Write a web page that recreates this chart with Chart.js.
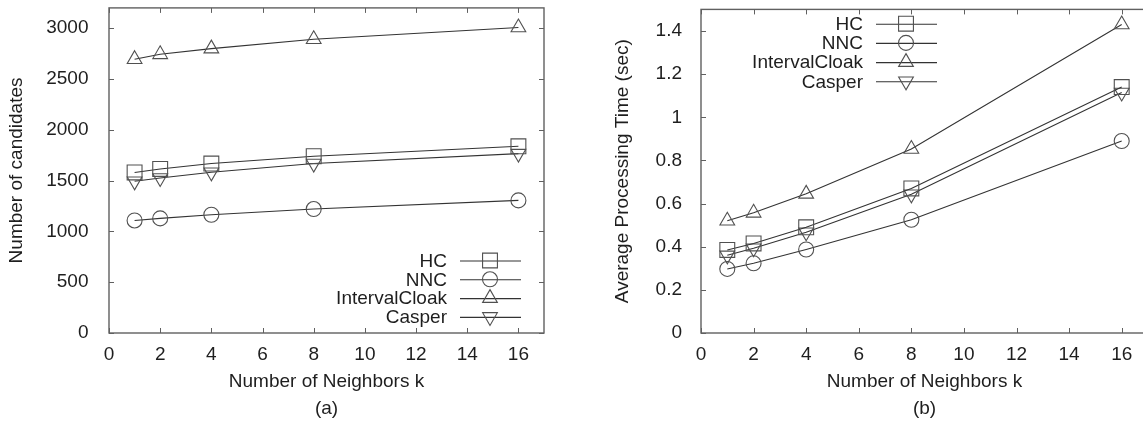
<!DOCTYPE html>
<html>
<head>
<meta charset="utf-8">
<script src="https://cdn.jsdelivr.net/npm/chart.js@4/dist/chart.umd.min.js"></script>
<style>
  html, body { margin: 0; padding: 0; background: #fff; }
  body { width: 1143px; height: 423px; overflow: hidden; position: relative; }
  canvas { position: absolute; top: 0; }
  #candidatesChart { left: 0; }
  #timeChart { left: 580px; }
</style>
</head>
<body>
<canvas id="candidatesChart" width="580" height="423"></canvas>
<canvas id="timeChart" width="600" height="423"></canvas>
<script>
// k values on the x axis
const kValues = [1, 2, 4, 8, 16];
const seriesNames = ['HC', 'NNC', 'IntervalCloak', 'Casper'];

// (a) number of candidates
const candHC = [1580, 1615, 1668, 1740, 1838];
const candNNC = [1108, 1128, 1164, 1220, 1305];
const candInterval = [2695, 2743, 2799, 2891, 3007];
const candCasper = [1493, 1526, 1582, 1668, 1766];

// (b) average processing time in seconds
const timeHC = [0.385, 0.415, 0.49, 0.67, 1.14];
const timeNNC = [0.297, 0.323, 0.387, 0.525, 0.89];
const timeInterval = [0.52, 0.557, 0.645, 0.853, 1.43];
const timeCasper = [0.36, 0.393, 0.467, 0.643, 1.115];

const xTicks = [0, 2, 4, 6, 8, 10, 12, 14, 16];
const candTicks = [0, 500, 1000, 1500, 2000, 2500, 3000];
const timeTicks = [0, 0.2, 0.4, 0.6, 0.8, 1, 1.2, 1.4];

const FONT = '"Liberation Sans", Arial, Helvetica, sans-serif';
const FONT_SIZE = 19;
const TEXT = '#1e1e1e';
const LINE = '#333';
const MARK = '#505050';
const FRAME = '#606060';
const PAGE_H = 423;

const markers = [
    { pointStyle: 'rect', radius: 10.5, rotation: 0 },
    { pointStyle: 'circle', radius: 7.5, rotation: 0 },
    { pointStyle: 'triangle', radius: 8.5, rotation: 0 },
    { pointStyle: 'triangle', radius: 8.5, rotation: 180 }
];

function makeDatasets(series) {
    return series.map((vals, i) => ({
        label: seriesNames[i],
        data: kValues.map((k, j) => ({ x: k, y: vals[j] })),
        borderColor: LINE,
        borderWidth: 1.1,
        tension: 0,
        fill: false,
        pointStyle: markers[i].pointStyle,
        pointRadius: markers[i].radius,
        pointHoverRadius: markers[i].radius,
        pointRotation: markers[i].rotation,
        pointBorderColor: MARK,
        pointBorderWidth: 1.1,
        pointBackgroundColor: 'rgba(0,0,0,0)',
        clip: false
    }));
}

// gnuplot-like frame with inward ticks on all four sides
const framePlugin = {
    id: 'frame',
    beforeDatasetsDraw(chart) {
        const { ctx, chartArea: a, scales } = chart;
        const len = 5;
        ctx.save();
        ctx.strokeStyle = FRAME;
        ctx.lineWidth = 1.4;
        ctx.strokeRect(a.left, a.top, a.right - a.left, a.bottom - a.top);
        ctx.lineWidth = 1;
        ctx.beginPath();
        scales.x.ticks.forEach(t => {
            const px = Math.round(scales.x.getPixelForValue(t.value)) + 0.5;
            ctx.moveTo(px, a.bottom); ctx.lineTo(px, a.bottom - len);
            ctx.moveTo(px, a.top); ctx.lineTo(px, a.top + len);
        });
        scales.y.ticks.forEach(t => {
            const py = Math.round(scales.y.getPixelForValue(t.value)) + 0.5;
            ctx.moveTo(a.left, py); ctx.lineTo(a.left + len, py);
            ctx.moveTo(a.right, py); ctx.lineTo(a.right - len, py);
        });
        ctx.stroke();
        ctx.restore();
    }
};

// legend drawn inside the plot: right-aligned name, sample line, marker
const keyPlugin = {
    id: 'key',
    afterDatasetsDraw(chart, args, opts) {
        const { ctx, chartArea: a } = chart;
        const textRight = opts.anchorX(a);
        const firstY = opts.anchorY(a);
        ctx.save();
        ctx.font = FONT_SIZE + 'px ' + FONT;
        ctx.textAlign = 'right';
        ctx.textBaseline = 'middle';
        chart.data.datasets.forEach((ds, i) => {
            const y = firstY + i * opts.rowGap;
            ctx.fillStyle = TEXT;
            ctx.fillText(ds.label, textRight, y + 1);
            ctx.strokeStyle = LINE;
            ctx.lineWidth = 1.1;
            ctx.beginPath();
            ctx.moveTo(textRight + 13, y + 0.5);
            ctx.lineTo(textRight + 74, y + 0.5);
            ctx.stroke();
            ctx.strokeStyle = MARK;
            ctx.fillStyle = 'rgba(0,0,0,0)';
            Chart.helpers.drawPoint(ctx, {
                pointStyle: ds.pointStyle,
                radius: ds.pointRadius,
                rotation: ds.pointRotation,
                borderWidth: 1.1
            }, textRight + 43, y);
        });
        ctx.restore();
    }
};

function keepTicks(list) {
    return scale => {
        scale.ticks = list.map(v => ({ value: v }));
    };
}

function buildChart(id, cfg) {
    const canvas = document.getElementById(id);
    const tickFont = { family: FONT, size: FONT_SIZE };
    const chart = new Chart(canvas, {
        type: 'line',
        data: { datasets: makeDatasets(cfg.series) },
        plugins: [framePlugin, keyPlugin],
        options: {
            responsive: false,
            maintainAspectRatio: false,
            animation: false,
            devicePixelRatio: 1,
            layout: { padding: { ...cfg.padding } },
            plugins: {
                legend: { display: false },
                tooltip: { enabled: false },
                key: cfg.key
            },
            scales: {
                x: {
                    type: 'linear',
                    min: 0,
                    max: 17,
                    afterBuildTicks: keepTicks(xTicks),
                    ticks: { color: TEXT, font: tickFont, padding: 2, maxRotation: 0,
                             callback: v => String(v) },
                    grid: { display: false },
                    border: { display: false },
                    title: {
                        display: true,
                        text: ['Number of Neighbors k', cfg.caption],
                        color: TEXT,
                        font: { family: FONT, size: FONT_SIZE, lineHeight: 1.45 },
                        padding: { top: 0, bottom: 0 }
                    },
                    afterFit: s => { s.height = 90; }
                },
                y: {
                    type: 'linear',
                    min: 0,
                    max: cfg.yMax,
                    afterBuildTicks: keepTicks(cfg.yTicks),
                    ticks: { color: TEXT, font: tickFont, padding: cfg.yPad,
                             callback: v => String(+v.toFixed(1)) },
                    grid: { display: false },
                    border: { display: false },
                    title: {
                        display: true,
                        text: cfg.yTitle,
                        color: TEXT,
                        font: { family: FONT, size: FONT_SIZE },
                        padding: { top: cfg.yTitlePad, bottom: 0 }
                    },
                    afterFit: s => { s.height = s.height; s.width = cfg.yWidth; }
                }
            }
        }
    });

    // the layout reserves extra room above the plot; grow the canvas upwards
    // by that amount so the plot top lands at cfg.plotTop on the page
    const extra = Math.round(chart.chartArea.top - cfg.plotTop);
    if (extra > 0) {
        canvas.style.top = (-extra) + 'px';
        chart.resize(canvas.width, PAGE_H + extra);
        chart.update();
    }
    return chart;
}

buildChart('candidatesChart', {
    series: [candHC, candNNC, candInterval, candCasper],
    yMax: 3200,
    yTicks: candTicks,
    yTitle: 'Number of candidates',
    yWidth: 109,
    yPad: 12.5,
    yTitlePad: 5.6,
    caption: '(a)',
    padding: { top: 8, right: 36, left: 0, bottom: 0 },
    plotTop: 8,
    key: { anchorX: a => a.right - 97, anchorY: a => a.bottom - 72.5, rowGap: 18.8 }
});

buildChart('timeChart', {
    series: [timeHC, timeNNC, timeInterval, timeCasper],
    yMax: 1.5,
    yTicks: timeTicks,
    yTitle: 'Average Processing Time (sec)',
    yWidth: 121,
    yPad: 11,
    yTitlePad: 31.6,
    caption: '(b)',
    padding: { top: 9, right: 32, left: 0, bottom: 0 },
    plotTop: 9,
    key: { anchorX: a => a.left + 162, anchorY: a => a.top + 14.3, rowGap: 19.2 }
});
</script>
</body>
</html>
